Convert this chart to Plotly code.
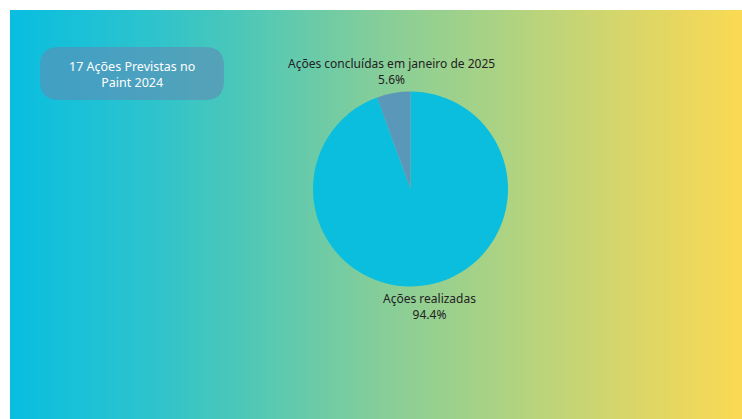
import math
import plotly.graph_objects as go

labels = ["Ações realizadas", "Ações concluídas em janeiro de 2025"]
values = [17, 1]
slice_colors = ["#0bbedd", "#5b97b8"]
box_text = "17 Ações Previstas no<br>Paint 2024"

W, H = 742, 419
X0, Y0 = 10, 10  # white border offset

# background gradient stops (pixel x, rgb)
stops = [(10, (8, 190, 224)), (150, (45, 195, 205)), (250, (80, 200, 182)),
         (370, (130, 205, 155)), (480, (165, 210, 135)), (580, (200, 213, 115)),
         (680, (232, 215, 95)), (742, (250, 218, 84))]

def col_at(x):
    for (xa, ca), (xb, cb) in zip(stops, stops[1:]):
        if xa <= x <= xb:
            t = (x - xa) / (xb - xa)
            return tuple(round(a + (b - a) * t) for a, b in zip(ca, cb))
    return stops[-1][1]

def px(v): return v / W
def py(v): return 1 - v / H

shapes = []
step = 3
x = X0
while x < W:
    c = col_at(x + step / 2)
    shapes.append(dict(type="rect", xref="paper", yref="paper", layer="below",
                       x0=px(x), x1=px(min(x + step + 0.5, W)), y0=0, y1=py(Y0),
                       fillcolor=f"rgb{c}", line=dict(width=0)))
    x += step

# rounded box
bx0, bx1, by0, by1, r = 40, 224, 47, 100, 19
path = (f"M {px(bx0+r)},{py(by0)} L {px(bx1-r)},{py(by0)} Q {px(bx1)},{py(by0)} {px(bx1)},{py(by0+r)} "
        f"L {px(bx1)},{py(by1-r)} Q {px(bx1)},{py(by1)} {px(bx1-r)},{py(by1)} L {px(bx0+r)},{py(by1)} "
        f"Q {px(bx0)},{py(by1)} {px(bx0)},{py(by1-r)} L {px(bx0)},{py(by0+r)} Q {px(bx0)},{py(by0)} {px(bx0+r)},{py(by0)} Z")
shapes.append(dict(type="path", xref="paper", yref="paper", path=path,
                   fillcolor="rgba(95,140,180,0.62)", line=dict(width=0), layer="above"))

cx, cy, rad = 410.5, 189, 97.5
fig = go.Figure(go.Pie(
    labels=labels, values=values, sort=False, direction="clockwise", rotation=0,
    marker=dict(colors=slice_colors, line=dict(width=0)),
    textinfo="none", automargin=False,
    showlegend=False, hoverinfo="skip",
    domain=dict(x=[px(cx - 200), px(cx + 200)],
                y=[py(cy + rad), py(cy - rad)]),
))

# outside labels placed along each slice's mid angle
annotations = [dict(x=px((bx0 + bx1) / 2), y=py((by0 + by1) / 2 + 1), xref="paper", yref="paper",
                    text=box_text, showarrow=False, align="center", xanchor="center", yanchor="middle",
                    font=dict(family="Noto Sans", size=12.5, color="white"))]
total = sum(values)
acc = 0
for lab, v in zip(labels, values):
    mid = (acc + v / 2) / total * 2 * math.pi
    acc += v
    R = rad + 3
    lx = cx + math.sin(mid) * (R + 10)
    ly = cy - math.cos(mid) * R
    top = math.cos(mid) > 0
    annotations.append(dict(x=px(lx), y=py(ly), xref="paper", yref="paper",
                            text=f"{lab}<br>{v / total * 100:.1f}%", showarrow=False,
                            align="center", xanchor="center",
                            yanchor="bottom" if top else "top",
                            font=dict(family="Noto Sans", size=12, color="#222222")))

fig.update_layout(
    width=W, height=H, margin=dict(l=0, r=0, t=0, b=0, autoexpand=False),
    paper_bgcolor="white", plot_bgcolor="white",
    shapes=shapes, annotations=annotations,
)
fig.write_html("out.html")
